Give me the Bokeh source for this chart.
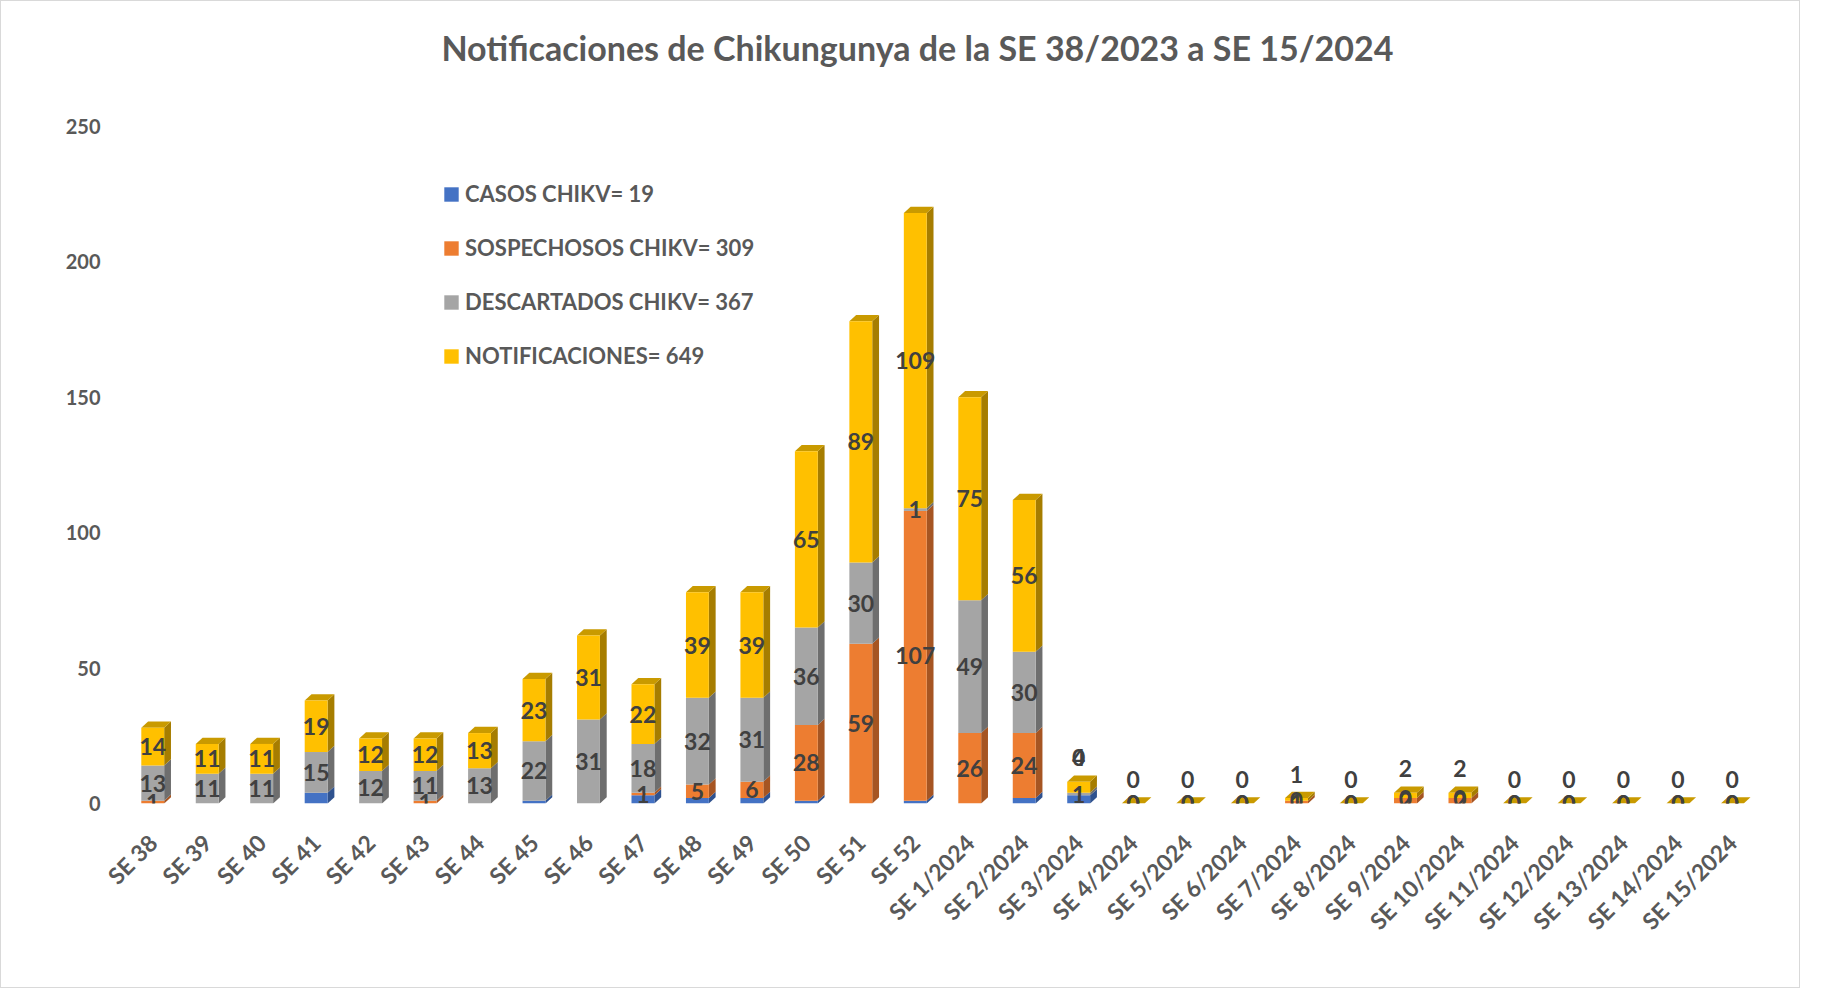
import math
from bokeh.plotting import figure
from bokeh.models import ColumnDataSource, Range1d, FixedTicker, Legend, LegendItem
from bokeh.embed import file_html
from bokeh.resources import INLINE
from bokeh.core.properties import value

# ---------------- data ----------------
weeks = ["SE 38", "SE 39", "SE 40", "SE 41", "SE 42", "SE 43", "SE 44", "SE 45",
         "SE 46", "SE 47", "SE 48", "SE 49", "SE 50", "SE 51", "SE 52",
         "SE 1/2024", "SE 2/2024", "SE 3/2024", "SE 4/2024", "SE 5/2024",
         "SE 6/2024", "SE 7/2024", "SE 8/2024", "SE 9/2024", "SE 10/2024",
         "SE 11/2024", "SE 12/2024", "SE 13/2024", "SE 14/2024", "SE 15/2024"]
casos = [0, 0, 0, 4, 0, 0, 0, 1, 0, 3, 2, 2, 1, 0, 1,
         0, 2, 3, 0, 0, 0, 0, 0, 0, 0, 0, 0, 0, 0, 0]
sospechosos = [1, 0, 0, 0, 0, 1, 0, 0, 0, 1, 5, 6, 28, 59, 107,
               26, 24, 0, 0, 0, 0, 1, 0, 2, 2, 0, 0, 0, 0, 0]
descartados = [13, 11, 11, 15, 12, 11, 13, 22, 31, 18, 32, 31, 36, 30, 1,
               49, 30, 1, 0, 0, 0, 0, 0, 0, 0, 0, 0, 0, 0, 0]
notificaciones = [14, 11, 11, 19, 12, 12, 13, 23, 31, 22, 39, 39, 65, 89, 109,
                  75, 56, 4, 0, 0, 0, 1, 0, 2, 2, 0, 0, 0, 0, 0]
legend_labels = ["CASOS CHIKV= 19", "SOSPECHOSOS CHIKV= 309",
                 "DESCARTADOS CHIKV= 367", "NOTIFICACIONES= 649"]
y_ticks = [0, 50, 100, 150, 200, 250]
title_text = "Notificaciones de Chikungunya de la SE 38/2023 a SE 15/2024"

# ---------------- style ----------------
FONT = "Lato"
front_colors = ["#4472C4", "#ED7D31", "#A5A5A5", "#FFC000"]
side_colors = ["#2F528F", "#A65522", "#6E6E6E", "#A67D00"]
top_colors = ["#3A62A8", "#C4662A", "#8C8C8C", "#C99A00"]
W = 0.42      # front face width (category units)
DX = 0.125    # 3D depth, x (category units)
DY = 2.3      # 3D depth, y (data units)
ZERO_LABEL_FROM = weeks.index("SE 3/2024")

series = [casos, sospechosos, descartados, notificaciones]
n = len(weeks)
idx = list(range(n))

p = figure(width=1800, height=988, output_backend="svg", toolbar_location=None,
           x_range=Range1d(-0.5, n - 0.5), y_range=Range1d(0, 292),
           min_border_left=124, min_border_right=42, min_border_top=11,
           min_border_bottom=186)
p.styles = {"border": "1px solid #D9D9D9"}
p.outline_line_color = None
p.xgrid.visible = False
p.ygrid.visible = False
p.background_fill_color = "white"
p.border_fill_color = "white"

# stacks
bottoms, tops = [], []
cum = [0] * n
for s in series:
    b = list(cum)
    t = [cum[i] + s[i] for i in range(n)]
    bottoms.append(b)
    tops.append(t)
    cum = t

# side faces
for k in range(4):
    xs, ys = [], []
    for i in range(n):
        if series[k][i] <= 0:
            continue
        xr = idx[i] + W / 2
        b, t = bottoms[k][i], tops[k][i]
        xs.append([xr, xr + DX, xr + DX, xr])
        ys.append([b, b + DY, t + DY, t])
    if xs:
        p.patches(xs, ys, fill_color=side_colors[k], line_color=None)

# top faces of each stack
txs, tys = [], []
for i in range(n):
    t = tops[3][i]
    xl = idx[i] - W / 2
    xr = idx[i] + W / 2
    txs.append([xl, xr, xr + DX, xl + DX])
    tys.append([t, t, t + DY, t + DY])
p.patches(txs, tys, fill_color=top_colors[3], line_color=None)

# front faces
renderers = []
for k in range(4):
    src = ColumnDataSource(dict(x=idx, bottom=bottoms[k], top=tops[k]))
    r = p.vbar(x="x", width=W, bottom="bottom", top="top", source=src,
               fill_color=front_colors[k], line_color=None)
    renderers.append(r)

# data labels (casos not labelled, as in the original)
lx, ly, lt, lyo = [], [], [], []
for k in (1, 2, 3):
    for i in range(n):
        v = series[k][i]
        if v <= 0 and i < ZERO_LABEL_FROM:
            continue
        lx.append(idx[i])
        if i >= ZERO_LABEL_FROM and (k == 3 or (k == 1 and i == ZERO_LABEL_FROM)):
            ly.append(tops[3][i])
            lyo.append(-24)
        else:
            ly.append((bottoms[k][i] + tops[k][i]) / 2)
            lyo.append(0)
        lt.append(str(v))
lab_src = ColumnDataSource(dict(x=lx, y=ly, text=lt, yo=lyo))
p.text(x="x", y="y", text="text", y_offset="yo", source=lab_src,
       text_align="center", text_baseline="middle",
       text_font=value(FONT), text_font_style="bold",
       text_font_size="23px", text_color="#404040")

# title
p.text(x=[14.04], y=[279.0], text=[title_text], text_align="center",
       text_baseline="middle", text_font=value(FONT), text_font_style="bold",
       text_font_size="34px", text_color="#595959")

# axes
p.xaxis.ticker = FixedTicker(ticks=idx)
p.xaxis.major_label_overrides = {i: weeks[i] for i in idx}
p.xaxis.major_label_orientation = math.pi / 4
p.yaxis.ticker = FixedTicker(ticks=y_ticks)
for ax in (p.xaxis, p.yaxis):
    ax.axis_line_color = None
    ax.major_tick_line_color = None
    ax.minor_tick_line_color = None
    ax.major_tick_out = 0
    ax.major_label_text_font = FONT
    ax.major_label_text_font_style = "bold"
    ax.major_label_text_color = "#595959"
p.yaxis.major_label_text_font_size = "20px"
p.xaxis.major_label_text_font_size = "23px"
p.yaxis.major_label_standoff = 25
p.xaxis.major_label_standoff = 35

# legend
legend = Legend(items=[LegendItem(label=legend_labels[k], renderers=[renderers[k]])
                       for k in range(4)],
                location=(317, 434), orientation="vertical",
                border_line_color=None, background_fill_alpha=0,
                glyph_width=18, glyph_height=18, label_standoff=5,
                spacing=27, padding=0, margin=0, label_height=25,
                label_text_font=FONT, label_text_font_style="bold",
                label_text_font_size="22px", label_text_color="#595959")
p.add_layout(legend)

open("out.html", "w").write(file_html(p, INLINE))
